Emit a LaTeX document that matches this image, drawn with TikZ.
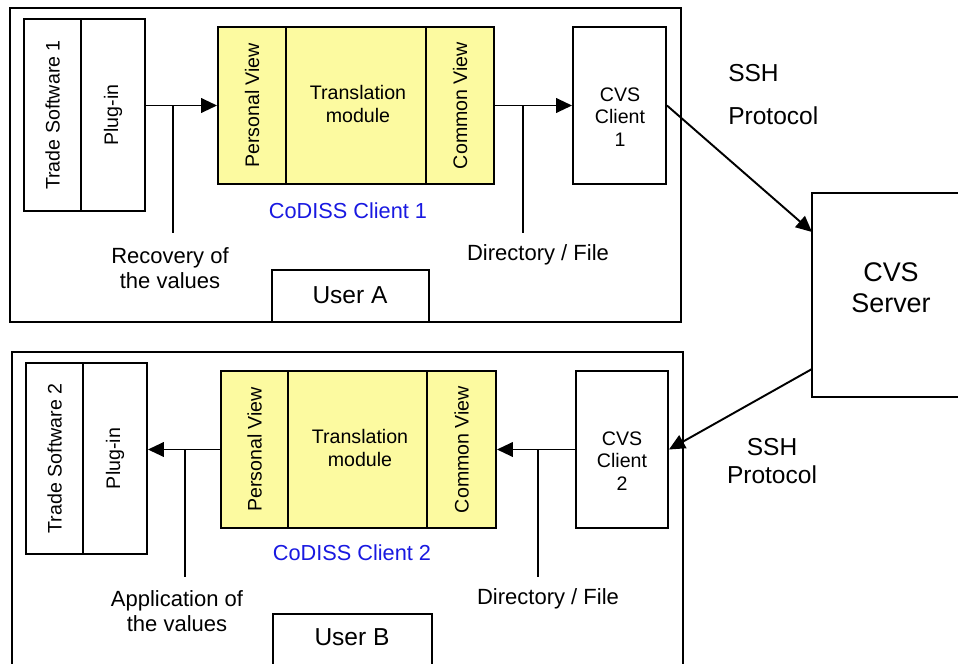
\documentclass[tikz,border=0pt]{standalone}
\usepackage{fontspec}
\setmainfont{Liberation Sans}
\usetikzlibrary{arrows.meta,fit,calc}
\definecolor{panelyellow}{RGB}{252,250,160}
\definecolor{codissblue}{RGB}{25,25,225}
\begin{document}
\begin{tikzpicture}[x=0.75pt,y=-0.75pt,
  box/.style={draw,line width=1.45pt,inner sep=0pt},
  ybox/.style={box,fill=panelyellow},
  arr/.style={line width=1.45pt,-{Triangle[length=12pt,width=11pt]}},
  ln/.style={line width=1.45pt},
  sm/.style={font=\fontsize{14.7}{17}\selectfont,inner sep=0pt,align=center},
  lbl/.style={font=\fontsize{16.5}{18.8}\selectfont,inner sep=0pt,align=center},
  usr/.style={font=\fontsize{18.4}{21}\selectfont,inner sep=0pt},
  blu/.style={font=\fontsize{16.3}{19}\selectfont,inner sep=0pt,text=codissblue},
  big/.style={font=\fontsize{20.2}{23.3}\selectfont,inner sep=0pt,align=center},
  ssh/.style={font=\fontsize{18.4}{21}\selectfont,inner sep=0pt,align=center}
]
\clip (0,0) rectangle (958,664);
\fill[white] (0,0) rectangle (958,664);

% ---------- top panel ----------
\node[box,fit={(10,8) (681,322)}] (panelA) {};
\node[box,fit={(24,19) (81,211)}] (ts1) {};
\node[box,fit={(81,19) (145,211)}] (plug1) {};
\node[ybox,fit={(218,27) (286,184)}] (pv1) {};
\node[ybox,fit={(286,27) (426,184)}] (tm1) {};
\node[ybox,fit={(426,27) (494,184)}] (cv1) {};
\node[box,fit={(573,27) (666,184)}] (cvs1) {};
\node[box,fit={(272,270) (429,322)}] (userA) {};

\node[sm,rotate=90] at (ts1) {Trade Software 1};
\node[sm,rotate=90] at (plug1) {Plug-in};
\node[sm,rotate=90] at (pv1) {Personal View};
\node[sm,rotate=90] at (cv1) {Common View};
\node[sm] (tmt1) at (358,104) {Translation\\module};
\node[sm,font=\fontsize{14.7}{16.9}\selectfont] (cvst1) at (620,117) {CVS\\Client\\1};
\node[blu] (codiss1) at (348,211) {CoDISS Client 1};
\node[usr] (userAt) at (350,295) {User A};
\node[lbl] (rec) at (170,268.5) {Recovery of\\the values};
\node[lbl] (dir1) at (538,255) {Directory / File};
\node[ssh,anchor=west] (ssh1) at (728,73) {SSH};
\node[ssh,anchor=west] (proto1) at (728,116) {Protocol};

\coordinate (j1) at (173,105.5);
\coordinate (j1e) at (173,233);
\coordinate (j2) at (523,105.5);
\coordinate (j2e) at (523,233);
\draw[arr] (plug1.east |- pv1.west) -- (pv1.west);
\draw[ln] (j1) -- (j1e);
\draw[arr] (cv1.east) -- (cvs1.west);
\draw[ln] (j2) -- (j2e);

% ---------- server ----------
\node[box,fit={(812,193) (970,397)}] (srv) {};
\node[big] (srvt) at (891,288) {CVS\\Server};
\coordinate (srvin) at (812,232);
\coordinate (srvout) at (812,369);
\draw[arr] (cvs1.east) -- (srvin);

% ---------- bottom panel ----------
\node[box,fit={(12,352) (683,680)}] (panelB) {};
\node[box,fit={(26,363) (83,554)}] (ts2) {};
\node[box,fit={(83,363) (147,554)}] (plug2) {};
\node[ybox,fit={(221,371) (288,528)}] (pv2) {};
\node[ybox,fit={(288,371) (427,528)}] (tm2) {};
\node[ybox,fit={(427,371) (496,528)}] (cv2) {};
\node[box,fit={(576,371) (668,528)}] (cvs2) {};
\node[box,fit={(273,614) (432,680)}] (userB) {};

\node[sm,rotate=90] at (ts2) {Trade Software 2};
\node[sm,rotate=90] at (plug2) {Plug-in};
\node[sm,rotate=90] at (pv2) {Personal View};
\node[sm,rotate=90] at (cv2) {Common View};
\node[sm] (tmt2) at (360,448) {Translation\\module};
\node[sm,font=\fontsize{14.7}{16.9}\selectfont] (cvst2) at (622,461) {CVS\\Client\\2};
\node[blu] (codiss2) at (352,553) {CoDISS Client 2};
\node[usr] (userBt) at (352,637) {User B};
\node[lbl] (app) at (177,611.5) {Application of\\the values};
\node[lbl] (dir2) at (548,599) {Directory / File};
\node[ssh] (ssh2) at (772,461) {SSH\\Protocol};

\coordinate (j3) at (185,449.5);
\coordinate (j3e) at (185,577);
\coordinate (j4) at (538,449.5);
\coordinate (j4e) at (538,577);
\draw[arr] (pv2.west) -- (plug2.east |- pv2.west);
\draw[ln] (j3) -- (j3e);
\draw[arr] (cvs2.west) -- (cv2.east);
\draw[ln] (j4) -- (j4e);
\draw[arr] (srvout) -- (cvs2.east);
\end{tikzpicture}
\end{document}
